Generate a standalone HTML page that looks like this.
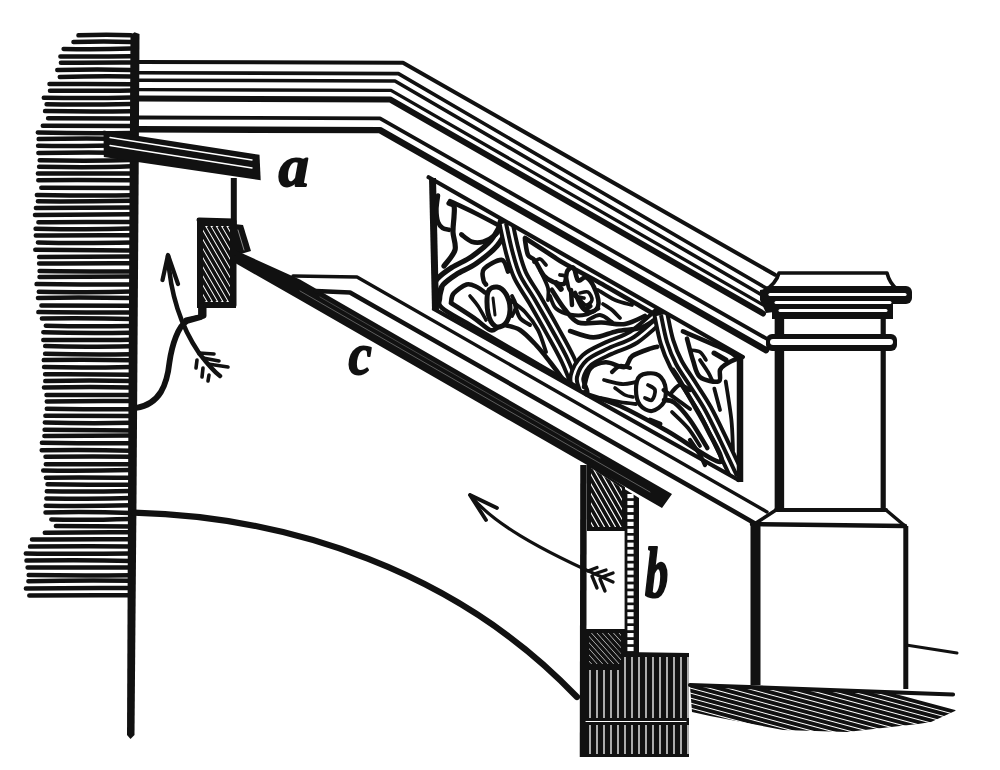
<!DOCTYPE html>
<html><head><meta charset="utf-8"><style>
html,body{margin:0;padding:0;background:#fff;}
svg{display:block;}
</style></head><body>
<svg width="1000" height="770" viewBox="0 0 1000 770">
<rect width="1000" height="770" fill="#fff"/>
<path d="M78.5,35.3 Q107.8,34.2 131.0,35.3 M73.5,42.1 Q102.4,41.0 131.0,42.0 M63.6,49.0 Q95.8,49.8 131.0,48.6 M60.4,56.5 Q104.6,56.6 131.0,56.3 M60.9,62.8 Q103.1,62.3 131.0,62.4 M57.3,70.0 Q100.5,69.2 131.0,70.0 M59.8,76.9 Q96.4,75.9 131.0,76.4 M49.5,84.1 Q88.8,83.7 131.0,84.2 M50.0,90.7 Q96.4,91.1 131.0,90.4 M43.8,97.8 Q94.9,98.4 131.0,97.5 M46.6,104.3 Q87.1,104.9 131.0,103.9 M45.1,111.1 Q91.4,111.8 131.0,111.2 M48.1,118.3 Q93.5,118.5 131.0,118.4 M42.8,125.8 Q95.8,125.7 131.0,125.9 M37.8,132.5 Q87.3,133.7 131.0,132.9 M38.7,139.1 Q88.2,138.0 131.0,139.1 M38.1,145.8 Q75.7,146.4 131.0,145.3 M38.4,152.9 Q92.1,151.9 131.0,152.9 M39.7,160.3 Q91.7,161.2 131.0,160.1 M39.1,166.7 Q92.7,167.8 131.0,166.3 M37.9,173.5 Q79.1,173.5 131.0,173.6 M38.3,180.2 Q83.0,179.9 131.0,180.3 M41.3,187.8 Q86.5,188.1 131.0,188.0 M36.9,194.9 Q89.5,195.8 131.0,195.3 M37.9,201.3 Q76.5,201.6 131.0,200.8 M35.9,208.0 Q76.7,207.6 131.0,207.5 M35.0,214.9 Q75.0,214.5 131.0,214.3 M38.4,222.2 Q77.7,221.7 131.0,222.1 M35.6,228.7 Q90.3,229.8 131.0,228.6 M35.8,235.5 Q75.4,235.2 131.0,235.3 M37.9,242.5 Q74.9,243.6 131.0,242.6 M35.3,249.8 Q73.7,249.9 131.0,250.4 M39.1,256.9 Q80.3,256.6 131.0,256.5 M39.1,263.6 Q90.6,263.2 131.0,263.3 M39.6,271.0 Q92.3,271.7 131.0,271.4 M39.5,277.1 Q85.6,276.8 131.0,276.6 M36.6,284.1 Q79.0,284.6 131.0,284.6 M38.8,291.7 Q94.6,292.7 131.0,291.5 M38.0,297.9 Q78.4,297.1 131.0,298.0 M41.4,305.4 Q85.8,305.7 131.0,305.7 M38.4,312.1 Q92.9,312.8 131.0,312.4 M41.9,318.5 Q92.2,318.1 131.0,318.9 M45.8,325.7 Q86.4,326.7 131.0,325.9 M43.3,332.3 Q80.2,333.3 131.0,332.7 M43.3,339.9 Q96.7,340.3 131.0,339.7 M45.2,346.1 Q78.4,347.3 131.0,346.3 M45.1,353.8 Q86.7,354.7 131.0,354.2 M43.8,360.1 Q83.3,359.4 131.0,360.2 M44.1,367.1 Q80.2,368.1 131.0,367.0 M45.1,374.2 Q96.1,374.0 131.0,374.7 M45.3,381.1 Q88.6,379.9 131.0,381.0 M44.0,387.4 Q93.5,386.7 131.0,387.4 M46.5,394.9 Q85.3,394.9 131.0,395.0 M46.8,401.4 Q90.1,400.8 131.0,401.1 M46.8,408.7 Q90.2,409.3 131.0,409.2 M45.4,415.7 Q88.3,415.7 131.0,415.9 M44.8,422.5 Q87.5,423.6 131.0,422.8 M44.6,429.8 Q83.0,430.0 131.0,430.4 M44.4,435.9 Q80.2,435.8 131.0,435.4 M41.9,442.8 Q89.8,443.5 131.0,443.3 M41.7,450.3 Q89.6,449.5 131.0,450.8 M45.5,456.7 Q97.3,456.5 131.0,456.7 M45.8,464.3 Q81.6,464.1 131.0,464.3 M43.2,470.5 Q83.5,471.1 131.0,470.0 M45.9,477.7 Q78.8,477.3 131.0,477.8 M47.5,484.2 Q98.9,484.9 131.0,484.8 M46.8,491.3 Q79.7,492.0 131.0,491.1 M46.4,498.4 Q96.9,499.2 131.0,498.1 M45.7,505.8 Q89.8,506.3 131.0,505.3 M45.5,512.5 Q86.7,511.5 131.0,513.0 M51.3,519.5 Q82.8,520.4 131.0,519.0 M55.9,526.1 Q90.2,526.2 131.0,526.6 M44.8,532.7 Q88.4,532.0 131.0,532.2 M32.0,539.5 Q75.6,539.0 131.0,539.2 M30.1,546.6 Q80.5,545.9 131.0,546.4 M25.8,553.5 Q68.7,554.1 131.0,553.6 M26.5,560.6 Q87.4,559.7 131.0,561.0 M27.6,567.6 Q86.0,567.3 131.0,567.6 M28.7,575.0 Q76.7,575.8 131.0,575.2 M28.4,581.3 Q76.7,580.2 131.0,580.8 M25.9,588.5 Q73.5,587.7 131.0,588.0 M29.3,595.6 Q83.6,595.0 131.0,595.3" fill="none" stroke="#111" stroke-width="4.5" stroke-linecap="round"/>
<path d="M130.5,35.0 L134.5,32.3 L139.5,34.0 L138.5,200.0 L136.5,500.0 L134.5,735.0 L130.5,739.0 L127.0,735.0 L128.0,500.0 L129.5,200.0Z" fill="#111"/>
<path d="M139.0,62.0 L403.0,62.8 L775.0,274.8" fill="none" stroke="#111" stroke-width="4.0" stroke-linecap="round" stroke-linejoin="round"/>
<path d="M139.0,72.8 L398.4,73.6 L766.0,288.1" fill="none" stroke="#111" stroke-width="3.6" stroke-linecap="round" stroke-linejoin="round"/>
<path d="M139.0,80.2 L395.0,81.0 L764.0,296.3" fill="none" stroke="#111" stroke-width="3.6" stroke-linecap="round" stroke-linejoin="round"/>
<path d="M139.0,89.6 L391.0,90.4 L763.0,304.9" fill="none" stroke="#111" stroke-width="3.4" stroke-linecap="round" stroke-linejoin="round"/>
<path d="M139.0,98.6 L390.0,99.4 L763.0,313.5" fill="none" stroke="#111" stroke-width="6.0" stroke-linecap="round" stroke-linejoin="round"/>
<path d="M139.0,117.5 L380.0,118.3 L767.0,338.9" fill="none" stroke="#111" stroke-width="3.8" stroke-linecap="round" stroke-linejoin="round"/>
<path d="M139.0,129.3 L380.0,130.1 L766.0,350.1" fill="none" stroke="#111" stroke-width="6.4" stroke-linecap="round" stroke-linejoin="round"/>
<path d="M103.5,130.5 L259.5,154.8 L260.7,180.2 L103.8,157.0Z" fill="#111"/>
<path d="M110.0,137.5 L252.0,160.0" fill="none" stroke="#fff" stroke-width="1.4" stroke-linecap="round" stroke-linejoin="round"/>
<path d="M110.0,145.5 L252.0,168.0" fill="none" stroke="#fff" stroke-width="1.4" stroke-linecap="round" stroke-linejoin="round"/>
<path d="M233.8,178.0 L233.8,254.0" fill="none" stroke="#111" stroke-width="6.0" stroke-linecap="butt" stroke-linejoin="round"/>
<path d="M199,220 L234,221 L234,305 L204,305 L204,316 L186,320" fill="none" stroke="#111" stroke-width="5.0" stroke-linecap="round" stroke-linejoin="round"/>
<path d="M197.0,218.5 L236.0,219.5 L236.0,308.0 L197.0,308.0Z" fill="#111"/>
<path d="M203.0,226.0 L230.0,226.0 L230.0,302.0 L203.0,302.0Z" fill="#fff"/>
<clipPath id="cb1"><rect x="203" y="226" width="27" height="76"/></clipPath>
<path d="M118.2,226 L162.2,302 M123.5,226 L167.5,302 M128.8,226 L172.8,302 M134.1,226 L178.1,302 M139.4,226 L183.4,302 M144.7,226 L188.7,302 M150.0,226 L194.0,302 M155.3,226 L199.3,302 M160.6,226 L204.6,302 M165.9,226 L209.9,302 M171.2,226 L215.2,302 M176.5,226 L220.5,302 M181.8,226 L225.8,302 M187.1,226 L231.1,302 M192.4,226 L236.4,302 M197.7,226 L241.7,302 M203.0,226 L247.0,302 M208.3,226 L252.3,302 M213.6,226 L257.6,302 M218.9,226 L262.9,302 M224.2,226 L268.2,302 M229.5,226 L273.5,302 M234.8,226 L278.8,302 M240.1,226 L284.1,302 M245.4,226 L289.4,302 M250.7,226 L294.7,302 M256.0,226 L300.0,302 M261.3,226 L305.3,302 M266.6,226 L310.6,302 M271.9,226 L315.9,302 M277.2,226 L321.2,302 M282.5,226 L326.5,302 M287.8,226 L331.8,302 M293.1,226 L337.1,302 M298.4,226 L342.4,302 M303.7,226 L347.7,302 M309.0,226 L353.0,302 M314.3,226 L358.3,302 M319.6,226 L363.6,302 M324.9,226 L368.9,302 M330.2,226 L374.2,302 M335.5,226 L379.5,302 M340.8,226 L384.8,302 M346.1,226 L390.1,302 M351.4,226 L395.4,302 M356.7,226 L400.7,302" stroke="#111" stroke-width="3.6" clip-path="url(#cb1)"/>
<path d="M201,306 L201,317 L187,321 C178,326 172,345 169.5,362 C167,385 160,404 136,408" fill="none" stroke="#111" stroke-width="5.8" stroke-linecap="round" stroke-linejoin="round"/>
<path d="M234.0,224.0 L243.0,225.0 L251.0,251.0 L234.0,256.0Z" fill="#111"/>
<path d="M238.0,230.0 L244.0,250.0" fill="none" stroke="#888" stroke-width="1.0" stroke-linecap="round" stroke-linejoin="round"/>
<path d="M236.0,250.5 L300.0,279.5 L672.0,494.0 L662.0,508.0 L300.0,300.0 L236.0,263.5Z" fill="#111"/>
<path d="M300.0,291.0 L650.0,492.0" fill="none" stroke="#666" stroke-width="0.9" stroke-linecap="round" stroke-linejoin="round"/>
<path d="M320.0,297.0 L600.0,458.0" fill="none" stroke="#555" stroke-width="0.8" stroke-linecap="round" stroke-linejoin="round"/>
<path d="M293.0,276.0 L357.0,277.0 L767.0,511.9" fill="none" stroke="#111" stroke-width="3.4" stroke-linecap="round" stroke-linejoin="round"/>
<path d="M316.0,291.0 L350.0,292.5 L755.0,523.4" fill="none" stroke="#111" stroke-width="4.6" stroke-linecap="round" stroke-linejoin="round"/>
<path d="M168,256 C170,290 180,325 199,353 C206,362 212,370 220,376" fill="none" stroke="#111" stroke-width="4.5" stroke-linecap="round" stroke-linejoin="round"/>
<path d="M162.5,280 L168,255 L178,284" fill="none" stroke="#111" stroke-width="4.2" stroke-linecap="round" stroke-linejoin="round"/>
<path d="M199,353 L214,354 M203,358 L219,361 M208,364 L228,367 M197,360 L196,368 M203,368 L202,377 M209,375 L208,381" fill="none" stroke="#111" stroke-width="3.6" stroke-linecap="round" stroke-linejoin="round"/>
<path d="M134,512.6 C287.5,516.5 456,570 577,697" fill="none" stroke="#111" stroke-width="6.2" stroke-linecap="round" stroke-linejoin="round"/>
<text transform="translate(278.50,185.93) scale(0.3041,0.2921)" font-family="Liberation Serif" font-weight="bold" font-style="italic" font-size="200" fill="#111" stroke="#111" stroke-width="6" stroke-linejoin="round">a</text>
<text transform="translate(348.60,373.91) scale(0.2625,0.2970)" font-family="Liberation Serif" font-weight="bold" font-style="italic" font-size="200" fill="#111" stroke="#111" stroke-width="6" stroke-linejoin="round">c</text>
<text transform="translate(645.00,596.80) scale(0.2323,0.3610)" font-family="Liberation Serif" font-weight="bold" font-style="italic" font-size="200" fill="#111" stroke="#111" stroke-width="6" stroke-linejoin="round">b</text>
<path d="M583.5,465.0 L583.0,757.0" fill="none" stroke="#111" stroke-width="6.5" stroke-linecap="butt" stroke-linejoin="round"/>
<path d="M587.0,463.0 L625.0,487.0 L625.0,531.0 L587.0,531.0Z" fill="#111"/>
<path d="M591.0,468.0 L622.0,488.0 L622.0,527.0 L591.0,527.0Z" fill="#fff"/>
<clipPath id="cb2"><path d="M591,468 L622,488 L622,527 L591,527Z"/></clipPath>
<path d="M525.0,460 L565.0,530 M530.5,460 L570.5,530 M536.0,460 L576.0,530 M541.5,460 L581.5,530 M547.0,460 L587.0,530 M552.5,460 L592.5,530 M558.0,460 L598.0,530 M563.5,460 L603.5,530 M569.0,460 L609.0,530 M574.5,460 L614.5,530 M580.0,460 L620.0,530 M585.5,460 L625.5,530 M591.0,460 L631.0,530 M596.5,460 L636.5,530 M602.0,460 L642.0,530 M607.5,460 L647.5,530 M613.0,460 L653.0,530 M618.5,460 L658.5,530 M624.0,460 L664.0,530 M629.5,460 L669.5,530 M635.0,460 L675.0,530 M640.5,460 L680.5,530 M646.0,460 L686.0,530 M651.5,460 L691.5,530 M657.0,460 L697.0,530 M662.5,460 L702.5,530 M668.0,460 L708.0,530 M673.5,460 L713.5,530" stroke="#111" stroke-width="3.6" clip-path="url(#cb2)"/>
<path d="M624.6,489.0 L639.0,498.0 L639.0,653.0 L624.6,653.0Z" fill="#111"/>
<path d="M627.4,494.0 L633.6,494.0 L633.6,498.2 L627.4,498.2Z" fill="#fff"/>
<path d="M627.4,500.9 L633.6,500.9 L633.6,505.1 L627.4,505.1Z" fill="#fff"/>
<path d="M627.4,507.9 L633.6,507.9 L633.6,512.1 L627.4,512.1Z" fill="#fff"/>
<path d="M627.4,514.9 L633.6,514.9 L633.6,519.1 L627.4,519.1Z" fill="#fff"/>
<path d="M627.4,521.8 L633.6,521.8 L633.6,526.0 L627.4,526.0Z" fill="#fff"/>
<path d="M627.4,528.8 L633.6,528.8 L633.6,533.0 L627.4,533.0Z" fill="#fff"/>
<path d="M627.4,535.7 L633.6,535.7 L633.6,539.9 L627.4,539.9Z" fill="#fff"/>
<path d="M627.4,542.6 L633.6,542.6 L633.6,546.9 L627.4,546.9Z" fill="#fff"/>
<path d="M627.4,549.6 L633.6,549.6 L633.6,553.8 L627.4,553.8Z" fill="#fff"/>
<path d="M627.4,556.5 L633.6,556.5 L633.6,560.8 L627.4,560.8Z" fill="#fff"/>
<path d="M627.4,563.5 L633.6,563.5 L633.6,567.7 L627.4,567.7Z" fill="#fff"/>
<path d="M627.4,570.5 L633.6,570.5 L633.6,574.7 L627.4,574.7Z" fill="#fff"/>
<path d="M627.4,577.4 L633.6,577.4 L633.6,581.6 L627.4,581.6Z" fill="#fff"/>
<path d="M627.4,584.4 L633.6,584.4 L633.6,588.6 L627.4,588.6Z" fill="#fff"/>
<path d="M627.4,591.3 L633.6,591.3 L633.6,595.5 L627.4,595.5Z" fill="#fff"/>
<path d="M627.4,598.2 L633.6,598.2 L633.6,602.5 L627.4,602.5Z" fill="#fff"/>
<path d="M627.4,605.2 L633.6,605.2 L633.6,609.4 L627.4,609.4Z" fill="#fff"/>
<path d="M627.4,612.1 L633.6,612.1 L633.6,616.4 L627.4,616.4Z" fill="#fff"/>
<path d="M627.4,619.1 L633.6,619.1 L633.6,623.3 L627.4,623.3Z" fill="#fff"/>
<path d="M627.4,626.0 L633.6,626.0 L633.6,630.2 L627.4,630.2Z" fill="#fff"/>
<path d="M627.4,633.0 L633.6,633.0 L633.6,637.2 L627.4,637.2Z" fill="#fff"/>
<path d="M627.4,640.0 L633.6,640.0 L633.6,644.2 L627.4,644.2Z" fill="#fff"/>
<path d="M627.4,646.9 L633.6,646.9 L633.6,651.1 L627.4,651.1Z" fill="#fff"/>
<path d="M585.0,629.0 L625.0,629.0 L625.0,668.0 L585.0,668.0Z" fill="#111"/>
<path d="M589.0,633.0 L621.0,633.0 L621.0,664.0 L589.0,664.0Z" fill="#fff"/>
<clipPath id="cb3"><rect x="589" y="633" width="32" height="31"/></clipPath>
<path d="M520.0,630 L554.0,668 M525.5,630 L559.5,668 M531.0,630 L565.0,668 M536.5,630 L570.5,668 M542.0,630 L576.0,668 M547.5,630 L581.5,668 M553.0,630 L587.0,668 M558.5,630 L592.5,668 M564.0,630 L598.0,668 M569.5,630 L603.5,668 M575.0,630 L609.0,668 M580.5,630 L614.5,668 M586.0,630 L620.0,668 M591.5,630 L625.5,668 M597.0,630 L631.0,668 M602.5,630 L636.5,668 M608.0,630 L642.0,668 M613.5,630 L647.5,668 M619.0,630 L653.0,668 M624.5,630 L658.5,668 M630.0,630 L664.0,668 M635.5,630 L669.5,668 M641.0,630 L675.0,668 M646.5,630 L680.5,668 M652.0,630 L686.0,668 M657.5,630 L691.5,668 M663.0,630 L697.0,668 M668.5,630 L702.5,668" stroke="#111" stroke-width="3.6" clip-path="url(#cb3)"/>
<path d="M580.0,666.0 L624.0,666.0 L624.0,652.0 L689.0,653.0 L689.0,757.0 L580.0,757.0Z" fill="#111"/>
<path d="M590.0,670 L590.0,718 M590.0,725 L590.0,754 M597.0,670 L597.0,718 M597.0,725 L597.0,754 M604.0,670 L604.0,718 M604.0,725 L604.0,754 M611.0,670 L611.0,718 M611.0,725 L611.0,754 M618.0,670 L618.0,718 M618.0,725 L618.0,754 M625.0,657 L625.0,718 M625.0,725 L625.0,754 M632.0,657 L632.0,718 M632.0,725 L632.0,754 M639.0,657 L639.0,718 M639.0,725 L639.0,754 M646.0,657 L646.0,718 M646.0,725 L646.0,754 M653.0,657 L653.0,718 M653.0,725 L653.0,754 M660.0,657 L660.0,718 M660.0,725 L660.0,754 M667.0,657 L667.0,718 M667.0,725 L667.0,754 M674.0,657 L674.0,718 M674.0,725 L674.0,754 M681.0,657 L681.0,718 M681.0,725 L681.0,754 M688.0,657 L688.0,718 M688.0,725 L688.0,754" stroke="#fff" stroke-width="1.3"/>
<path d="M586.0,721.5 L686.0,721.5" fill="none" stroke="#fff" stroke-width="1.2" stroke-linecap="round" stroke-linejoin="round"/>
<path d="M470,495 C492,522 535,548 613,582" fill="none" stroke="#111" stroke-width="3.2" stroke-linecap="round" stroke-linejoin="round"/>
<path d="M497,508 L470,495 L486,520" fill="none" stroke="#111" stroke-width="3.8" stroke-linecap="round" stroke-linejoin="round"/>
<path d="M588,571 L597,567.5 M594,574 L606,570 M602,577 L613,573 M592,576 L597,588 M600,579 L605,591" fill="none" stroke="#111" stroke-width="3.4" stroke-linecap="round" stroke-linejoin="round"/>
<path d="M779,273 L887,273 C889,281 893,286 897,289 L763,292 C771,287 777,281 779,273Z" fill="#fff" stroke="#111" stroke-width="3.6" stroke-linecap="round" stroke-linejoin="round"/>
<path d="M760.0,290.0 L772.0,288.0 L774.0,312.0 L766.0,313.0 L760.0,300.0Z" fill="#111"/>
<rect x="763" y="286" width="149" height="18" rx="6" fill="#111"/>
<path d="M770.0,294.5 L905.0,294.5" fill="none" stroke="#fff" stroke-width="3.2" stroke-linecap="round" stroke-linejoin="round"/>
<rect x="772" y="299" width="121" height="20" fill="#111"/>
<path d="M776.0,302.5 L890.0,302.5" fill="none" stroke="#fff" stroke-width="3.0" stroke-linecap="round" stroke-linejoin="round"/>
<path d="M780.0,310.5 L886.0,310.5" fill="none" stroke="#fff" stroke-width="3.0" stroke-linecap="round" stroke-linejoin="round"/>
<path d="M779.4,318.0 L779.4,336.0" fill="none" stroke="#111" stroke-width="9.5" stroke-linecap="butt" stroke-linejoin="round"/>
<path d="M883.2,318.0 L883.2,336.0" fill="none" stroke="#111" stroke-width="5.2" stroke-linecap="butt" stroke-linejoin="round"/>
<rect x="766" y="334" width="131" height="17" rx="6" fill="#111"/>
<path d="M773.0,342.0 L890.0,342.0" fill="none" stroke="#fff" stroke-width="6" stroke-linecap="round" stroke-linejoin="round"/>
<path d="M779.4,350.0 L779.4,511.0" fill="none" stroke="#111" stroke-width="9.5" stroke-linecap="butt" stroke-linejoin="round"/>
<path d="M883.2,350.0 L883.2,511.0" fill="none" stroke="#111" stroke-width="5.2" stroke-linecap="butt" stroke-linejoin="round"/>
<path d="M776.0,510.0 L886.0,510.0" fill="none" stroke="#111" stroke-width="4" stroke-linecap="round" stroke-linejoin="round"/>
<path d="M776,510 L756,523 M886,510 L905,526" fill="none" stroke="#111" stroke-width="3.5" stroke-linecap="round" stroke-linejoin="round"/>
<path d="M752.0,524.0 L905.0,526.0" fill="none" stroke="#111" stroke-width="4.5" stroke-linecap="round" stroke-linejoin="round"/>
<path d="M755.5,522.0 L755.5,685.0" fill="none" stroke="#111" stroke-width="10" stroke-linecap="butt" stroke-linejoin="round"/>
<path d="M905.8,526.0 L905.8,689.0" fill="none" stroke="#111" stroke-width="5" stroke-linecap="butt" stroke-linejoin="round"/>
<path d="M690.0,685.0 L953.0,694.5" fill="none" stroke="#111" stroke-width="4.2" stroke-linecap="round" stroke-linejoin="round"/>
<clipPath id="cg"><path d="M690,686 L953,694 C958,698 958,708 955,711 L931,722 L918,724 L891,727 L847,732 L783,730 L710,716 L692,712Z"/></clipPath>
<path d="M688,640.0 L960,713.4 M688,645.0 L960,718.4 M688,650.0 L960,723.4 M688,655.0 L960,728.4 M688,660.0 L960,733.4 M688,665.0 L960,738.4 M688,670.0 L960,743.4 M688,675.0 L960,748.4 M688,680.0 L960,753.4 M688,685.0 L960,758.4 M688,690.0 L960,763.4 M688,695.0 L960,768.4 M688,700.0 L960,773.4 M688,705.0 L960,778.4 M688,710.0 L960,783.4 M688,715.0 L960,788.4 M688,720.0 L960,793.4 M688,725.0 L960,798.4 M688,730.0 L960,803.4 M688,735.0 L960,808.4" stroke="#111" stroke-width="3.8" stroke-linecap="round" clip-path="url(#cg)"/>
<path d="M906.0,645.0 L957.0,653.0" fill="none" stroke="#111" stroke-width="3" stroke-linecap="round" stroke-linejoin="round"/>
<clipPath id="cpan"><path d="M432,179 L740,357 L740,481 L435,309Z"/></clipPath>
<g clip-path="url(#cpan)">
<path d="M506.0,223.0 C504.0,226.3 499.3,236.8 494.0,243.0 C488.7,249.2 480.7,255.3 474.0,260.0 C467.3,264.7 459.7,267.3 454.0,271.0 C448.3,274.7 443.2,278.5 440.0,282.0 C436.8,285.5 435.8,290.3 435.0,292.0" fill="none" stroke="#111" stroke-width="13.5" stroke-linecap="round" stroke-linejoin="round"/>
<path d="M506.0,223.0 C504.0,226.3 499.3,236.8 494.0,243.0 C488.7,249.2 480.7,255.3 474.0,260.0 C467.3,264.7 459.7,267.3 454.0,271.0 C448.3,274.7 443.2,278.5 440.0,282.0 C436.8,285.5 435.8,290.3 435.0,292.0" fill="none" stroke="#fff" stroke-width="3.0" stroke-linecap="butt" stroke-linejoin="round"/>
<path d="M506.0,223.0 C507.0,227.5 509.7,241.3 512.0,250.0 C514.3,258.7 516.2,266.7 520.0,275.0 C523.8,283.3 529.7,290.8 535.0,300.0 C540.3,309.2 546.5,320.0 552.0,330.0 C557.5,340.0 563.2,349.7 568.0,360.0 C572.8,370.3 578.8,386.7 581.0,392.0" fill="none" stroke="#111" stroke-width="17" stroke-linecap="round" stroke-linejoin="round"/>
<path d="M506.0,223.0 C507.0,227.5 509.7,241.3 512.0,250.0 C514.3,258.7 516.2,266.7 520.0,275.0 C523.8,283.3 529.7,290.8 535.0,300.0 C540.3,309.2 546.5,320.0 552.0,330.0 C557.5,340.0 563.2,349.7 568.0,360.0 C572.8,370.3 578.8,386.7 581.0,392.0" fill="none" stroke="#fff" stroke-width="9.0" stroke-linecap="butt" stroke-linejoin="round"/>
<path d="M506.0,223.0 C507.0,227.5 509.7,241.3 512.0,250.0 C514.3,258.7 516.2,266.7 520.0,275.0 C523.8,283.3 529.7,290.8 535.0,300.0 C540.3,309.2 546.5,320.0 552.0,330.0 C557.5,340.0 563.2,349.7 568.0,360.0 C572.8,370.3 578.8,386.7 581.0,392.0" fill="none" stroke="#111" stroke-width="4.0" stroke-linecap="butt" stroke-linejoin="round"/>
<path d="M660.0,315.0 C655.7,318.7 642.5,331.5 634.0,337.0 C625.5,342.5 616.8,344.2 609.0,348.0 C601.2,351.8 592.3,355.2 587.0,360.0 C581.7,364.8 578.2,371.8 577.0,377.0 C575.8,382.2 579.5,388.7 580.0,391.0" fill="none" stroke="#111" stroke-width="17" stroke-linecap="round" stroke-linejoin="round"/>
<path d="M660.0,315.0 C655.7,318.7 642.5,331.5 634.0,337.0 C625.5,342.5 616.8,344.2 609.0,348.0 C601.2,351.8 592.3,355.2 587.0,360.0 C581.7,364.8 578.2,371.8 577.0,377.0 C575.8,382.2 579.5,388.7 580.0,391.0" fill="none" stroke="#fff" stroke-width="9.0" stroke-linecap="butt" stroke-linejoin="round"/>
<path d="M660.0,315.0 C655.7,318.7 642.5,331.5 634.0,337.0 C625.5,342.5 616.8,344.2 609.0,348.0 C601.2,351.8 592.3,355.2 587.0,360.0 C581.7,364.8 578.2,371.8 577.0,377.0 C575.8,382.2 579.5,388.7 580.0,391.0" fill="none" stroke="#111" stroke-width="4.0" stroke-linecap="butt" stroke-linejoin="round"/>
<path d="M661.0,315.0 C662.0,319.5 664.5,333.8 667.0,342.0 C669.5,350.2 672.2,356.7 676.0,364.0 C679.8,371.3 685.2,378.3 690.0,386.0 C694.8,393.7 700.0,401.0 705.0,410.0 C710.0,419.0 714.7,429.0 720.0,440.0 C725.3,451.0 734.2,470.0 737.0,476.0" fill="none" stroke="#111" stroke-width="17" stroke-linecap="round" stroke-linejoin="round"/>
<path d="M661.0,315.0 C662.0,319.5 664.5,333.8 667.0,342.0 C669.5,350.2 672.2,356.7 676.0,364.0 C679.8,371.3 685.2,378.3 690.0,386.0 C694.8,393.7 700.0,401.0 705.0,410.0 C710.0,419.0 714.7,429.0 720.0,440.0 C725.3,451.0 734.2,470.0 737.0,476.0" fill="none" stroke="#fff" stroke-width="9.0" stroke-linecap="butt" stroke-linejoin="round"/>
<path d="M661.0,315.0 C662.0,319.5 664.5,333.8 667.0,342.0 C669.5,350.2 672.2,356.7 676.0,364.0 C679.8,371.3 685.2,378.3 690.0,386.0 C694.8,393.7 700.0,401.0 705.0,410.0 C710.0,419.0 714.7,429.0 720.0,440.0 C725.3,451.0 734.2,470.0 737.0,476.0" fill="none" stroke="#111" stroke-width="4.0" stroke-linecap="butt" stroke-linejoin="round"/>
</g>
<path d="M428.6,177.3 L742.9,357.0" fill="none" stroke="#111" stroke-width="4.2" stroke-linecap="round" stroke-linejoin="round"/>
<path d="M738.5,480.0 L434.0,309.0" fill="none" stroke="#111" stroke-width="4.2" stroke-linecap="round" stroke-linejoin="round"/>
<path d="M432.5,178.0 L435.5,310.0" fill="none" stroke="#111" stroke-width="7" stroke-linecap="butt" stroke-linejoin="round"/>
<path d="M740.0,355.0 L740.0,482.0" fill="none" stroke="#111" stroke-width="6.5" stroke-linecap="butt" stroke-linejoin="round"/>
<path d="M438.0,195.5 C437.7,197.8 436.4,205.1 436.4,209.5 C436.4,213.9 436.9,218.9 438.0,222.0 C439.1,225.1 440.9,226.9 442.7,228.2 C444.5,229.5 447.9,229.5 449.0,229.8" fill="none" stroke="#111" stroke-width="4.6" stroke-linecap="round" stroke-linejoin="round"/>
<path d="M449.0,203.3 C449.8,203.8 453.2,203.8 454.0,206.0 C454.8,208.2 454.2,212.4 454.0,216.8 C453.8,221.2 452.8,226.9 453.0,232.4 C453.2,237.9 456.5,244.4 455.0,250.0 C453.5,255.6 445.8,263.3 444.0,266.0" fill="none" stroke="#111" stroke-width="5.2" stroke-linecap="round" stroke-linejoin="round"/>
<path d="M450.0,201.2 C454.2,203.2 466.7,208.9 475.0,213.0 C483.3,217.1 495.7,223.8 499.8,226.0" fill="none" stroke="#111" stroke-width="4.6" stroke-linecap="round" stroke-linejoin="round"/>
<path d="M461.4,234.5 C463.1,235.7 468.2,240.5 471.8,241.7 C475.4,242.9 479.2,242.9 483.2,241.7 C487.2,240.5 492.9,236.9 495.7,234.5 C498.5,232.1 499.1,228.4 499.8,227.2" fill="none" stroke="#111" stroke-width="4.8" stroke-linecap="round" stroke-linejoin="round"/>
<path d="M442.0,288.0 C441.7,289.7 440.0,294.7 440.0,298.0 C440.0,301.3 437.0,303.5 442.0,308.0 C447.0,312.5 457.0,317.3 470.0,325.0 C483.0,332.7 502.5,343.8 520.0,354.0 C537.5,364.2 565.8,380.7 575.0,386.0" fill="none" stroke="#111" stroke-width="4.6" stroke-linecap="round" stroke-linejoin="round"/>
<path d="M451.0,302.7 C451.4,301.2 451.0,296.6 453.6,293.6 C456.2,290.6 462.7,285.6 466.6,284.5 C470.5,283.4 474.0,285.7 477.0,287.0 C480.0,288.3 483.4,291.4 484.7,292.3" fill="none" stroke="#111" stroke-width="4.6" stroke-linecap="round" stroke-linejoin="round"/>
<path d="M451.0,303.0 C454.8,305.5 467.5,313.5 474.0,318.0 C480.5,322.5 486.2,328.3 490.0,330.0 C493.8,331.7 495.8,328.3 497.0,328.0" fill="none" stroke="#111" stroke-width="4.6" stroke-linecap="round" stroke-linejoin="round"/>
<path d="M486.0,284.5 C485.6,283.8 483.7,282.6 483.4,280.0 C483.1,277.4 481.0,272.4 484.0,269.0 C487.0,265.6 497.6,259.5 501.6,259.9 C505.6,260.3 506.9,269.7 508.0,271.6" fill="none" stroke="#111" stroke-width="4.6" stroke-linecap="round" stroke-linejoin="round"/>
<path d="M488.0,292.0 C489.5,287.7 494.0,286.7 497.0,287.0 C500.0,287.3 503.8,290.2 506.0,294.0 C508.2,297.8 510.2,305.0 510.0,310.0 C509.8,315.0 507.5,321.3 505.0,324.0 C502.5,326.7 497.8,327.8 495.0,326.0 C492.2,324.2 489.2,318.7 488.0,313.0 C486.8,307.3 486.5,296.3 488.0,292.0Z" fill="none" stroke="#111" stroke-width="5.0" stroke-linecap="round" stroke-linejoin="round"/>
<path d="M493.0,298.0 C493.3,300.8 494.7,312.2 495.0,315.0" fill="none" stroke="#111" stroke-width="3.0" stroke-linecap="round" stroke-linejoin="round"/>
<path d="M505.0,325.0 C507.5,325.8 514.8,326.7 520.0,330.0 C525.2,333.3 531.0,339.7 536.0,345.0 C541.0,350.3 545.7,356.5 550.0,362.0 C554.3,367.5 560.0,375.3 562.0,378.0" fill="none" stroke="#111" stroke-width="4.6" stroke-linecap="round" stroke-linejoin="round"/>
<path d="M510.0,300.0 C512.5,302.0 520.3,307.0 525.0,312.0 C529.7,317.0 534.5,323.3 538.0,330.0 C541.5,336.7 544.7,348.3 546.0,352.0" fill="none" stroke="#111" stroke-width="3.8" stroke-linecap="round" stroke-linejoin="round"/>
<path d="M512.0,296.0 C512.7,297.7 516.0,302.7 516.0,306.0 C516.0,309.3 512.7,314.3 512.0,316.0" fill="none" stroke="#111" stroke-width="3.8" stroke-linecap="round" stroke-linejoin="round"/>
<path d="M525.0,238.0 C529.5,240.9 545.3,251.3 551.8,255.5 C558.3,259.7 556.0,258.7 564.0,263.3 C572.0,267.9 587.3,275.9 600.0,283.0 C612.7,290.1 631.3,301.0 640.0,306.0 C648.7,311.0 650.0,311.8 652.0,313.0" fill="none" stroke="#111" stroke-width="4.6" stroke-linecap="round" stroke-linejoin="round"/>
<path d="M525.0,240.0 C525.5,242.5 526.4,251.6 528.0,255.0 C529.6,258.4 531.9,256.7 534.6,260.2 C537.3,263.7 540.9,272.2 544.0,275.8 C547.1,279.4 549.9,280.7 553.3,282.0 C556.7,283.3 561.9,285.4 564.2,283.6 C566.5,281.8 565.7,273.6 567.3,271.0 C568.9,268.4 571.8,266.4 573.6,268.0 C575.4,269.6 576.1,278.9 578.2,280.5 C580.3,282.1 583.4,276.3 586.0,277.3 C588.6,278.3 591.7,282.3 593.8,286.7 C595.9,291.1 598.8,299.6 598.5,303.8 C598.2,308.0 594.9,310.8 592.3,311.6 C589.7,312.4 585.9,311.6 583.0,308.5 C580.1,305.4 576.3,295.6 575.0,293.0" fill="none" stroke="#111" stroke-width="4.6" stroke-linecap="round" stroke-linejoin="round"/>
<path d="M551.8,289.8 C553.9,292.9 559.8,303.1 564.2,308.5 C568.6,313.9 572.0,320.2 578.2,322.5 C584.4,324.8 593.8,322.2 601.6,322.5 C609.4,322.8 617.8,325.1 625.0,324.0 C632.2,322.9 641.7,317.3 645.0,316.0" fill="none" stroke="#111" stroke-width="4.6" stroke-linecap="round" stroke-linejoin="round"/>
<path d="M570.0,331.0 C573.9,332.1 585.6,337.4 593.4,337.4 C601.2,337.4 609.0,332.8 616.8,331.2 C624.6,329.6 633.8,329.8 640.0,328.0 C646.2,326.2 651.7,321.6 654.0,320.3" fill="none" stroke="#111" stroke-width="4.6" stroke-linecap="round" stroke-linejoin="round"/>
<path d="M571.0,290.0 C571.2,292.5 571.8,302.5 572.0,305.0" fill="none" stroke="#111" stroke-width="4.5" stroke-linecap="round" stroke-linejoin="round"/>
<path d="M598.0,290.0 C600.8,291.7 609.3,297.5 615.0,300.0 C620.7,302.5 629.2,304.2 632.0,305.0" fill="none" stroke="#111" stroke-width="3.8" stroke-linecap="round" stroke-linejoin="round"/>
<path d="M540.0,270.0 C541.3,273.0 546.7,283.0 548.0,288.0 C549.3,293.0 548.0,298.0 548.0,300.0" fill="none" stroke="#111" stroke-width="3.8" stroke-linecap="round" stroke-linejoin="round"/>
<path d="M556.0,283.0 C556.8,284.0 560.2,288.0 561.0,289.0" fill="none" stroke="#111" stroke-width="5.5" stroke-linecap="round" stroke-linejoin="round"/>
<path d="M580.0,302.0 C580.8,303.2 583.3,308.3 585.0,309.0 C586.7,309.7 589.2,306.5 590.0,306.0" fill="none" stroke="#111" stroke-width="5.0" stroke-linecap="round" stroke-linejoin="round"/>
<path d="M560.0,275.0 C561.0,275.3 564.5,274.7 566.0,277.0 C567.5,279.3 567.5,285.8 569.0,289.0 C570.5,292.2 572.5,294.5 575.0,296.0 C577.5,297.5 582.5,297.7 584.0,298.0" fill="none" stroke="#111" stroke-width="3.8" stroke-linecap="round" stroke-linejoin="round"/>
<path d="M534.0,262.0 C535.0,261.5 538.0,258.5 540.0,259.0 C542.0,259.5 545.0,264.0 546.0,265.0" fill="none" stroke="#111" stroke-width="3.8" stroke-linecap="round" stroke-linejoin="round"/>
<path d="M603.0,304.0 C604.5,305.0 609.2,307.7 612.0,310.0 C614.8,312.3 618.7,316.7 620.0,318.0" fill="none" stroke="#111" stroke-width="3.8" stroke-linecap="round" stroke-linejoin="round"/>
<path d="M588.0,320.0 C590.0,319.2 596.0,314.7 600.0,315.0 C604.0,315.3 610.0,320.8 612.0,322.0" fill="none" stroke="#111" stroke-width="3.8" stroke-linecap="round" stroke-linejoin="round"/>
<path d="M580.0,293.0 C581.3,292.8 586.0,290.8 588.0,292.0 C590.0,293.2 592.3,297.8 592.0,300.0 C591.7,302.2 588.0,305.0 586.0,305.0 C584.0,305.0 581.0,300.8 580.0,300.0" fill="none" stroke="#111" stroke-width="3.6" stroke-linecap="round" stroke-linejoin="round"/>
<path d="M550.0,296.0 C551.0,298.1 552.6,305.4 556.0,308.5 C559.4,311.6 565.5,313.7 570.5,314.7 C575.5,315.7 581.3,315.7 586.0,314.7 C590.7,313.7 596.4,309.5 598.5,308.5" fill="none" stroke="#111" stroke-width="3.8" stroke-linecap="round" stroke-linejoin="round"/>
<path d="M515.0,305.0 C515.8,307.2 517.5,314.7 520.0,318.0 C522.5,321.3 528.3,323.8 530.0,325.0" fill="none" stroke="#111" stroke-width="4.0" stroke-linecap="round" stroke-linejoin="round"/>
<path d="M470.0,296.0 C471.3,297.7 475.3,302.0 478.0,306.0 C480.7,310.0 484.7,317.7 486.0,320.0" fill="none" stroke="#111" stroke-width="3.6" stroke-linecap="round" stroke-linejoin="round"/>
<path d="M584.0,387.0 C585.0,383.9 586.7,372.7 590.3,368.6 C593.9,364.5 600.1,362.6 605.8,362.3 C611.5,362.0 620.1,368.1 624.5,367.0 C628.9,365.9 627.9,359.1 632.3,356.0 C636.7,352.9 646.8,349.8 651.0,348.3 C655.2,346.8 656.2,347.1 657.3,346.8" fill="none" stroke="#111" stroke-width="4.6" stroke-linecap="round" stroke-linejoin="round"/>
<path d="M586.0,394.0 C591.7,396.0 606.5,399.9 620.0,406.0 C633.5,412.1 650.2,421.5 666.8,430.8 C683.4,440.1 713.0,462.3 719.8,462.0 C726.5,461.7 712.0,439.3 707.3,429.2 C702.6,419.1 696.4,409.5 691.7,401.2 C687.0,392.9 682.3,384.6 679.2,379.4 C676.1,374.2 674.0,371.6 673.0,370.0" fill="none" stroke="#111" stroke-width="4.6" stroke-linecap="round" stroke-linejoin="round"/>
<path d="M640.0,376.0 C643.3,373.3 651.8,372.5 656.0,374.0 C660.2,375.5 663.7,380.3 665.0,385.0 C666.3,389.7 666.2,397.7 664.0,402.0 C661.8,406.3 656.0,410.5 652.0,411.0 C648.0,411.5 642.7,408.5 640.0,405.0 C637.3,401.5 636.0,394.8 636.0,390.0 C636.0,385.2 636.7,378.7 640.0,376.0Z" fill="none" stroke="#111" stroke-width="4.2" stroke-linecap="round" stroke-linejoin="round"/>
<path d="M648.0,385.0 C649.2,385.8 654.3,387.5 655.0,390.0 C655.7,392.5 653.7,398.7 652.0,400.0 C650.3,401.3 646.2,398.3 645.0,398.0" fill="none" stroke="#111" stroke-width="3.8" stroke-linecap="round" stroke-linejoin="round"/>
<path d="M664.0,400.0 C665.8,400.4 670.2,399.4 674.5,402.7 C678.8,406.0 684.5,412.4 690.0,420.0 C695.5,427.6 704.4,443.3 707.3,448.0" fill="none" stroke="#111" stroke-width="4.6" stroke-linecap="round" stroke-linejoin="round"/>
<path d="M672.0,412.0 C674.7,414.7 683.3,422.3 688.0,428.0 C692.7,433.7 698.0,443.0 700.0,446.0" fill="none" stroke="#111" stroke-width="3.8" stroke-linecap="round" stroke-linejoin="round"/>
<path d="M604.0,380.0 C607.0,380.7 616.7,383.7 622.0,384.0 C627.3,384.3 633.7,382.3 636.0,382.0" fill="none" stroke="#111" stroke-width="3.8" stroke-linecap="round" stroke-linejoin="round"/>
<path d="M600.0,398.0 C603.3,398.7 614.0,401.0 620.0,402.0 C626.0,403.0 633.3,403.7 636.0,404.0" fill="none" stroke="#111" stroke-width="3.8" stroke-linecap="round" stroke-linejoin="round"/>
<path d="M650.0,420.0 C651.7,420.7 658.3,423.3 660.0,424.0" fill="none" stroke="#111" stroke-width="4.8" stroke-linecap="round" stroke-linejoin="round"/>
<path d="M612.0,372.0 C613.3,371.0 617.0,366.7 620.0,366.0 C623.0,365.3 628.3,367.7 630.0,368.0" fill="none" stroke="#111" stroke-width="4.2" stroke-linecap="round" stroke-linejoin="round"/>
<path d="M672.0,392.0 C673.3,390.8 677.0,385.3 680.0,385.0 C683.0,384.7 688.3,389.2 690.0,390.0" fill="none" stroke="#111" stroke-width="4.2" stroke-linecap="round" stroke-linejoin="round"/>
<path d="M700.0,360.0 C701.3,362.0 706.0,368.7 708.0,372.0 C710.0,375.3 711.3,378.7 712.0,380.0" fill="none" stroke="#111" stroke-width="3.8" stroke-linecap="round" stroke-linejoin="round"/>
<path d="M690.0,440.0 C691.7,442.5 697.5,450.8 700.0,455.0 C702.5,459.2 704.2,463.3 705.0,465.0" fill="none" stroke="#111" stroke-width="4.2" stroke-linecap="round" stroke-linejoin="round"/>
<path d="M663.5,390.0 C666.1,391.8 674.6,397.8 679.0,401.0 C683.4,404.2 688.2,407.7 690.0,409.0" fill="none" stroke="#111" stroke-width="4.0" stroke-linecap="round" stroke-linejoin="round"/>
<path d="M615.0,388.0 C616.7,389.2 622.0,393.5 625.0,395.0 C628.0,396.5 631.7,396.7 633.0,397.0" fill="none" stroke="#111" stroke-width="3.6" stroke-linecap="round" stroke-linejoin="round"/>
<path d="M690.0,350.0 C691.7,350.3 697.3,350.3 700.0,352.0 C702.7,353.7 705.0,358.7 706.0,360.0" fill="none" stroke="#111" stroke-width="3.6" stroke-linecap="round" stroke-linejoin="round"/>
<path d="M682.9,331.4 C690.0,334.5 716.7,345.7 725.7,350.0 C734.7,354.3 735.1,355.8 737.0,357.0" fill="none" stroke="#111" stroke-width="4.6" stroke-linecap="round" stroke-linejoin="round"/>
<path d="M687.0,338.6 C688.0,342.2 690.7,353.6 692.9,360.0 C695.1,366.4 695.7,373.4 700.0,377.0 C704.3,380.6 715.3,382.6 718.6,381.4 C721.9,380.2 718.8,372.9 720.0,370.0 C721.2,367.1 722.9,366.2 725.7,364.3 C728.5,362.4 735.1,359.6 737.0,358.6" fill="none" stroke="#111" stroke-width="4.6" stroke-linecap="round" stroke-linejoin="round"/>
<path d="M714.0,353.0 C716.0,354.2 724.0,358.8 726.0,360.0" fill="none" stroke="#111" stroke-width="5.0" stroke-linecap="round" stroke-linejoin="round"/>
<path d="M714.3,388.6 C715.2,392.2 719.0,406.4 720.0,410.0" fill="none" stroke="#111" stroke-width="3.8" stroke-linecap="round" stroke-linejoin="round"/>
<path d="M725.7,381.4 C726.7,387.8 730.2,408.6 731.4,420.0 C732.6,431.4 732.7,445.0 733.0,450.0" fill="none" stroke="#111" stroke-width="3.8" stroke-linecap="round" stroke-linejoin="round"/>
<path d="M740.0,371.0 C740.0,374.2 740.0,386.8 740.0,390.0" fill="none" stroke="#111" stroke-width="5.0" stroke-linecap="round" stroke-linejoin="round"/>
</svg>
</body></html>
